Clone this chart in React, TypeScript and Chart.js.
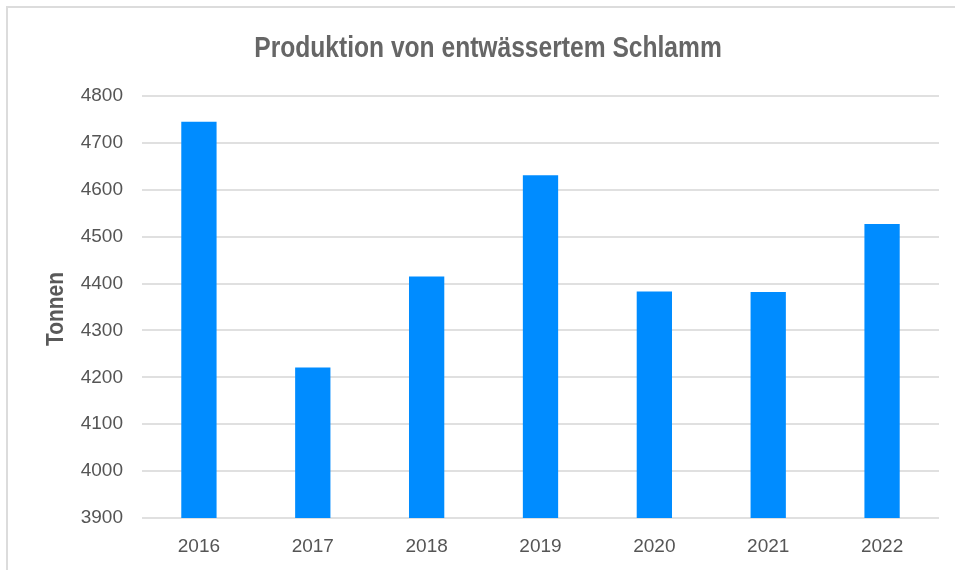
import React, { useEffect, useRef } from "react";
import { Chart, registerables } from "chart.js";

Chart.register(...registerables);

const years: string[] = ["2016", "2017", "2018", "2019", "2020", "2021", "2022"];
const tonnes: number[] = [4745, 4221, 4415, 4631, 4383, 4382, 4527];
const yMin = 3900;
const yMax = 4800;
const yStep = 100;
const chartTitle = "Produktion von entwässertem Schlamm";
const yTitle = "Tonnen";

const condensedText = {
  id: "condensedText",
  afterDraw(chart: any) {
    const ctx = chart.ctx as CanvasRenderingContext2D;
    // chart title (condensed bold)
    ctx.save();
    ctx.fillStyle = "#666666";
    ctx.font = "bold 30px 'Liberation Sans', Arial, sans-serif";
    ctx.textAlign = "center";
    ctx.textBaseline = "alphabetic";
    ctx.translate(488, 57);
    ctx.scale(0.82, 1);
    ctx.fillText(chartTitle, 0, 0);
    ctx.restore();
    // y axis title
    ctx.save();
    ctx.fillStyle = "#595959";
    ctx.font = "bold 24px 'Liberation Sans', Arial, sans-serif";
    ctx.textAlign = "center";
    ctx.textBaseline = "middle";
    ctx.translate(56, 309);
    ctx.rotate(-Math.PI / 2);
    ctx.scale(0.87, 1);
    ctx.fillText(yTitle, 0, 0);
    ctx.restore();
  },
};

export default function App() {
  const ref = useRef<HTMLCanvasElement | null>(null);

  useEffect(() => {
    document.body.style.margin = "0";
    const ctx = ref.current;
    if (!ctx) return;
    const chart = new Chart(ctx, {
      type: "bar",
      data: {
        labels: years,
        datasets: [
          {
            data: tonnes,
            backgroundColor: "#008cff",
            borderWidth: 0,
            barPercentage: 0.31,
            categoryPercentage: 1,
          },
        ],
      },
      plugins: [condensedText],
      options: {
        animation: false,
        responsive: false,
        devicePixelRatio: 1,
        layout: { padding: { left: 37, right: 16, top: 96, bottom: 0 } },
        plugins: {
          legend: { display: false },
          tooltip: { enabled: false },
          title: { display: false },
        },
        scales: {
          x: {
            grid: { display: false, drawTicks: false },
            border: { display: false },
            ticks: {
              color: "#555555",
              font: { family: "'Liberation Sans', Arial, sans-serif", size: 19 },
              padding: 17,
            },
            afterFit: (s: any) => {
              s.height = 52;
            },
          },
          y: {
            min: yMin,
            max: yMax,
            grid: { color: "#e0e0e0", lineWidth: 2, drawTicks: false },
            border: { display: false },
            ticks: {
              stepSize: yStep,
              color: "#555555",
              font: { family: "'Liberation Sans', Arial, sans-serif", size: 19 },
              padding: 19,
              callback: (v: any) => String(v),
            },
            afterFit: (s: any) => {
              s.width = 105;
            },
          },
        },
      },
    });
    return () => chart.destroy();
  }, []);

  return (
    <div style={{ position: "absolute", left: 0, top: 0, width: 955, height: 570, overflow: "hidden", background: "#ffffff" }}>
      <div
        style={{
          position: "absolute",
          left: 6,
          top: 6,
          width: 960,
          height: 580,
          borderTop: "2px solid #dcdcdc",
          borderLeft: "2px solid #dcdcdc",
        }}
      />
      <canvas ref={ref} width={955} height={570} style={{ position: "absolute", left: 0, top: 0 }} />
    </div>
  );
}
